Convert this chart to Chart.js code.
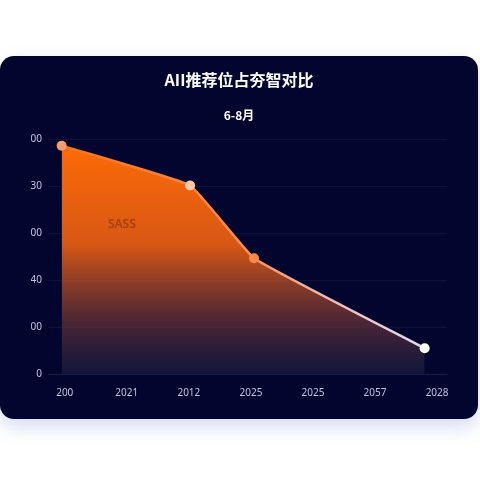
<!DOCTYPE html>
<html>
<head>
<meta charset="utf-8">
<script src="https://cdn.jsdelivr.net/npm/chart.js@4"></script>
<style>
  html, body { margin: 0; padding: 0; background: #ffffff; }
  body { width: 480px; height: 480px; position: relative; overflow: hidden; }
  .card {
    position: absolute; left: 0; top: 56px; width: 478px; height: 363px;
    background: #02062e; border-radius: 14px;
    box-shadow: 0 8px 18px rgba(110, 130, 210, 0.28);
    overflow: hidden;
  }
  canvas { display: block; }
</style>
</head>
<body>
<div class="card"><canvas id="chart" width="478" height="363"></canvas></div>
<script>
// données
const xLabels = ["200", "2021", "2012", "2025", "2025", "2057", "2028"];
const yLabels = ["0", "00", "40", "00", "30", "00"];
const pointX = [-0.05, 2.02, 3.05, 5.8];
const pointY = [4.87, 4.02, 2.47, 0.55];
const pointColors = ["#ff9c6c", "#ffc9a9", "#ff8748", "#ffffff"];
const noteText = "SASS";

const points = pointX.map((x, i) => ({ x: x, y: pointY[i] }));

// dégradé de la courbe (gauche orange -> droite blanc)
function lineGradient(ctx) {
  const { chart } = ctx;
  const area = chart.chartArea;
  if (!area) return "#ff7a20";
  const xs = chart.scales.x;
  const g = chart.ctx.createLinearGradient(xs.getPixelForValue(0), 0, xs.getPixelForValue(5.8), 0);
  g.addColorStop(0, "#ff7418");
  g.addColorStop(0.5, "#ff8a50");
  g.addColorStop(0.72, "#f0b8b0");
  g.addColorStop(1, "#dcdcf2");
  return g;
}

// dégradé de la zone (haut orange -> bas bleu nuit)
function fillGradient(ctx) {
  const { chart } = ctx;
  const area = chart.chartArea;
  if (!area) return "rgba(255,106,0,0.6)";
  const g = chart.ctx.createLinearGradient(0, area.top, 0, area.bottom);
  g.addColorStop(0, "rgba(255,108,6,1)");
  g.addColorStop(0.45, "rgba(226,92,20,0.95)");
  g.addColorStop(0.78, "rgba(100,48,56,0.75)");
  g.addColorStop(1, "rgba(30,32,68,0.6)");
  return g;
}

// petit libellé dans la zone
const notePlugin = {
  id: "note",
  afterDatasetsDraw(chart) {
    const c = chart.ctx;
    const x = chart.scales.x.getPixelForValue(0.92);
    const y = chart.scales.y.getPixelForValue(3.19);
    c.save();
    c.font = "600 12px 'Noto Sans'";
    c.fillStyle = "rgba(160,56,14,0.85)";
    c.textAlign = "center";
    c.textBaseline = "middle";
    c.fillText(noteText, x, y);
    c.restore();
  },
};

new Chart(document.getElementById("chart"), {
  type: "line",
  data: {
    datasets: [
      {
        label: "AII",
        data: points,
        borderColor: lineGradient,
        backgroundColor: fillGradient,
        borderWidth: 2.5,
        fill: "origin",
        tension: 0.1,
        pointRadius: 5,
        pointBorderWidth: 0,
        pointBackgroundColor: pointColors,
      },
    ],
  },
  options: {
    responsive: false,
    animation: false,
    layout: { padding: { left: 31, right: 31, bottom: 15 } },
    plugins: {
      legend: { display: false },
      tooltip: { enabled: false },
      title: {
        display: true,
        text: "AII推荐位占夯智对比",
        color: "#ffffff",
        font: { family: "'Noto Sans CJK SC'", size: 16, weight: "bold" },
        padding: { top: 14, bottom: 19 },
      },
      subtitle: {
        display: true,
        text: "6-8月",
        color: "#ffffff",
        font: { family: "'Noto Sans CJK SC'", size: 12, weight: "bold" },
        padding: { top: 0, bottom: 17 },
      },
    },
    scales: {
      x: {
        type: "linear",
        min: -0.27,
        max: 6.16,
        afterBuildTicks(scale) {
          scale.ticks = xLabels.map((_, i) => ({ value: i }));
        },
        ticks: {
          color: "#bfc3de",
          font: { family: "'Noto Sans'", size: 10 },
          padding: 5,
          maxRotation: 0,
          callback: (v) => xLabels[v],
        },
        grid: { display: false },
        border: { display: true, color: "rgba(255,255,255,0.05)" },
      },
      y: {
        min: 0,
        max: 5,
        afterFit(scale) {
          scale.width = 17;
        },
        ticks: {
          stepSize: 1,
          color: "#bfc3de",
          font: { family: "'Noto Sans'", size: 10 },
          padding: 6,
          callback: (v) => yLabels[v],
        },
        grid: { color: "rgba(255,255,255,0.05)", drawTicks: false },
        border: { display: false },
      },
    },
  },
  plugins: [notePlugin],
});
</script>
</body>
</html>
